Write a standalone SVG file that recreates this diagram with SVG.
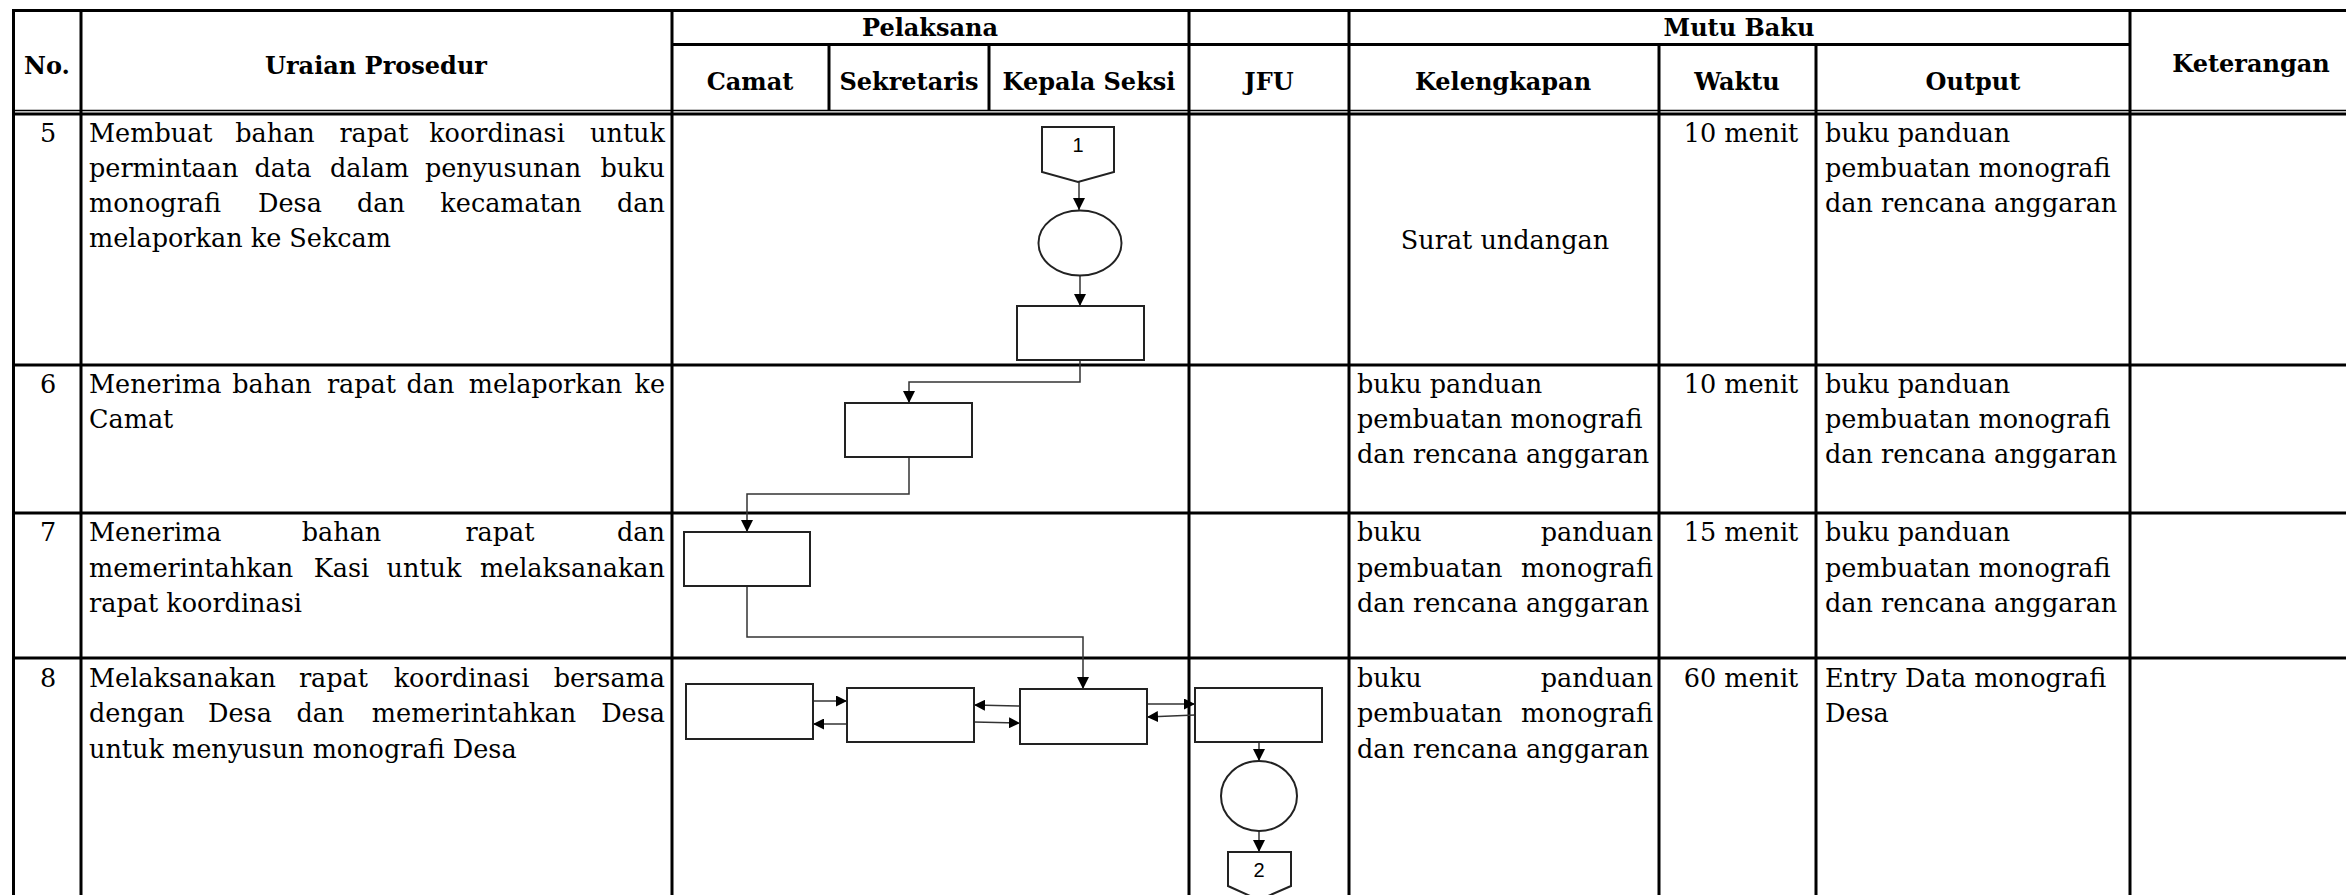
<svg xmlns="http://www.w3.org/2000/svg" width="2346" height="895" viewBox="0 0 2346 895">
<style>
.bg{fill:#fff}
.tl{stroke:#000;stroke-width:3;fill:none}
.tt{stroke:#000;stroke-width:1.6;fill:none}
.t{font-family:"DejaVu Serif",serif;font-size:25.5px;fill:#000}
.m{text-anchor:middle}
.e{text-anchor:end}
.h{font-family:"DejaVu Serif",serif;font-weight:bold;font-size:24px;fill:#000;text-anchor:middle}
.s{font-family:"Liberation Sans",Arial,sans-serif;font-size:20px;fill:#000;text-anchor:middle}
.shape{fill:#fff;stroke:#222;stroke-width:2}
.con{fill:none;stroke:#333;stroke-width:1.5}
</style>
<defs>
<marker id="ah" viewBox="0 0 12 12" refX="12" refY="6" markerWidth="12" markerHeight="12" markerUnits="userSpaceOnUse" orient="auto">
<path d="M0,0 L12,6 L0,12 z" fill="#000"/>
</marker>
<marker id="ahs" viewBox="0 0 12 12" refX="12" refY="6" markerWidth="11" markerHeight="11" markerUnits="userSpaceOnUse" orient="auto">
<path d="M0,0 L12,6 L0,12 z" fill="#000"/>
</marker>
</defs>
<rect class="bg" x="0" y="0" width="2346" height="895"/>

<g id="table">
<line class="tl" x1="12" y1="10.5" x2="2346" y2="10.5"/>
<line class="tl" x1="672" y1="44.5" x2="2130" y2="44.5"/>
<line class="tt" x1="12" y1="110.5" x2="2346" y2="110.5"/>
<line class="tl" x1="12" y1="114" x2="2346" y2="114"/>
<line class="tl" x1="12" y1="365" x2="2346" y2="365"/>
<line class="tl" x1="12" y1="513" x2="2346" y2="513"/>
<line class="tl" x1="12" y1="658" x2="2346" y2="658"/>
<line class="tl" x1="13.5" y1="9" x2="13.5" y2="895"/>
<line class="tl" x1="81" y1="9" x2="81" y2="895"/>
<line class="tl" x1="672" y1="9" x2="672" y2="895"/>
<line class="tl" x1="829" y1="44" x2="829" y2="111"/>
<line class="tl" x1="989" y1="44" x2="989" y2="111"/>
<line class="tl" x1="1189" y1="9" x2="1189" y2="895"/>
<line class="tl" x1="1349" y1="9" x2="1349" y2="895"/>
<line class="tl" x1="1659" y1="44" x2="1659" y2="895"/>
<line class="tl" x1="1816" y1="44" x2="1816" y2="895"/>
<line class="tl" x1="2130" y1="9" x2="2130" y2="895"/>
</g>

<g id="header">
<text class="h" x="47" y="74">No.</text>
<text class="h" x="376" y="74">Uraian Prosedur</text>
<text class="h" x="930" y="36">Pelaksana</text>
<text class="h" x="1739" y="36">Mutu Baku</text>
<text class="h" x="2251" y="72">Keterangan</text>
<text class="h" x="750" y="90">Camat</text>
<text class="h" x="909" y="90">Sekretaris</text>
<text class="h" x="1089" y="90">Kepala Seksi</text>
<text class="h" x="1269" y="90">JFU</text>
<text class="h" x="1503" y="90">Kelengkapan</text>
<text class="h" x="1737" y="90">Waktu</text>
<text class="h" x="1973" y="90">Output</text>
</g>

<g id="row5">
<text class="t m" x="48" y="142">5</text>
<text class="t" x="89" y="142">Membuat</text>
<text class="t m" x="275" y="142">bahan</text>
<text class="t m" x="374" y="142">rapat</text>
<text class="t m" x="497" y="142">koordinasi</text>
<text class="t e" x="665" y="142">untuk</text>
<text class="t" x="89" y="177">permintaan</text>
<text class="t m" x="283" y="177">data</text>
<text class="t m" x="369.5" y="177">dalam</text>
<text class="t m" x="503" y="177">penyusunan</text>
<text class="t e" x="665" y="177">buku</text>
<text class="t" x="89" y="212">monografi</text>
<text class="t m" x="290" y="212">Desa</text>
<text class="t m" x="381" y="212">dan</text>
<text class="t m" x="511" y="212">kecamatan</text>
<text class="t e" x="665" y="212">dan</text>
<text class="t" x="89" y="247">melaporkan ke Sekcam</text>
<text class="t m" x="1505" y="249">Surat undangan</text>
<text class="t m" x="1741" y="142">10 menit</text>
<text class="t" x="1825" y="142">buku panduan</text>
<text class="t" x="1825" y="177">pembuatan monografi</text>
<text class="t" x="1825" y="212">dan rencana anggaran</text>
</g>

<g id="row6">
<text class="t m" x="48" y="393">6</text>
<text class="t" x="89" y="393">Menerima</text>
<text class="t m" x="272" y="393">bahan</text>
<text class="t m" x="361.5" y="393">rapat</text>
<text class="t m" x="430.5" y="393">dan</text>
<text class="t m" x="545.5" y="393">melaporkan</text>
<text class="t e" x="665" y="393">ke</text>
<text class="t" x="89" y="428">Camat</text>
<text class="t" x="1357" y="393">buku panduan</text>
<text class="t" x="1357" y="428">pembuatan monografi</text>
<text class="t" x="1357" y="463">dan rencana anggaran</text>
<text class="t m" x="1741" y="393">10 menit</text>
<text class="t" x="1825" y="393">buku panduan</text>
<text class="t" x="1825" y="428">pembuatan monografi</text>
<text class="t" x="1825" y="463">dan rencana anggaran</text>
</g>

<g id="row7">
<text class="t m" x="48" y="541">7</text>
<text class="t" x="89" y="541">Menerima</text>
<text class="t m" x="341.5" y="541">bahan</text>
<text class="t m" x="500" y="541">rapat</text>
<text class="t e" x="665" y="541">dan</text>
<text class="t" x="89" y="577">memerintahkan</text>
<text class="t m" x="341.5" y="577">Kasi</text>
<text class="t m" x="424" y="577">untuk</text>
<text class="t e" x="665" y="577">melaksanakan</text>
<text class="t" x="89" y="612">rapat koordinasi</text>
<text class="t" x="1357" y="541">buku</text>
<text class="t e" x="1653" y="541">panduan</text>
<text class="t" x="1357" y="577">pembuatan</text>
<text class="t e" x="1653" y="577">monografi</text>
<text class="t" x="1357" y="612">dan rencana anggaran</text>
<text class="t m" x="1741" y="541">15 menit</text>
<text class="t" x="1825" y="541">buku panduan</text>
<text class="t" x="1825" y="577">pembuatan monografi</text>
<text class="t" x="1825" y="612">dan rencana anggaran</text>
</g>

<g id="row8">
<text class="t m" x="48" y="687">8</text>
<text class="t" x="89" y="687">Melaksanakan</text>
<text class="t m" x="333.5" y="687">rapat</text>
<text class="t m" x="461.5" y="687">koordinasi</text>
<text class="t e" x="665" y="687">bersama</text>
<text class="t" x="89" y="722">dengan</text>
<text class="t m" x="240" y="722">Desa</text>
<text class="t m" x="320.5" y="722">dan</text>
<text class="t m" x="474" y="722">memerintahkan</text>
<text class="t e" x="665" y="722">Desa</text>
<text class="t" x="89" y="758">untuk menyusun monografi Desa</text>
<text class="t" x="1357" y="687">buku</text>
<text class="t e" x="1653" y="687">panduan</text>
<text class="t" x="1357" y="722">pembuatan</text>
<text class="t e" x="1653" y="722">monografi</text>
<text class="t" x="1357" y="758">dan rencana anggaran</text>
<text class="t m" x="1741" y="687">60 menit</text>
<text class="t" x="1825" y="687">Entry Data monografi</text>
<text class="t" x="1825" y="722">Desa</text>
</g>

<g id="connectors">
<line class="con" x1="1079" y1="182" x2="1079" y2="210" marker-end="url(#ah)"/>
<line class="con" x1="1080" y1="275" x2="1080" y2="306" marker-end="url(#ah)"/>
<path class="con" d="M1080,360 V382 H909 V403" marker-end="url(#ah)"/>
<path class="con" d="M909,457 V494 H747 V532" marker-end="url(#ah)"/>
<path class="con" d="M747,586 V637 H1083 V689" marker-end="url(#ah)"/>
<line class="con" x1="814" y1="701" x2="847" y2="701" marker-end="url(#ahs)"/>
<line class="con" x1="847" y1="724" x2="813" y2="724" marker-end="url(#ahs)"/>
<line class="con" x1="1019" y1="706" x2="974" y2="705" marker-end="url(#ahs)"/>
<line class="con" x1="974" y1="722" x2="1020" y2="723" marker-end="url(#ahs)"/>
<line class="con" x1="1147" y1="704" x2="1195" y2="704" marker-end="url(#ahs)"/>
<line class="con" x1="1195" y1="715" x2="1147" y2="717" marker-end="url(#ahs)"/>
<line class="con" x1="1259" y1="742" x2="1259" y2="761" marker-end="url(#ah)"/>
<line class="con" x1="1259" y1="831" x2="1259" y2="852" marker-end="url(#ah)"/>
</g>

<g id="offpage1">
<path class="shape" d="M1042,127 H1114 V172 L1078,182 L1042,172 Z"/>
<text class="s" x="1078" y="152">1</text>
</g>
<g id="circle1"><ellipse class="shape" cx="1080" cy="243" rx="41.5" ry="32.5"/></g>
<g id="kasi5"><rect class="shape" x="1017" y="306" width="127" height="54"/></g>
<g id="sekretaris6"><rect class="shape" x="845" y="403" width="127" height="54"/></g>
<g id="camat7"><rect class="shape" x="684" y="532" width="126" height="54"/></g>
<g id="camat8"><rect class="shape" x="686" y="684" width="127" height="55"/></g>
<g id="sekretaris8"><rect class="shape" x="847" y="688" width="127" height="54"/></g>
<g id="kasi8"><rect class="shape" x="1020" y="689" width="127" height="55"/></g>
<g id="jfu8"><rect class="shape" x="1195" y="688" width="127" height="54"/></g>
<g id="circle2"><ellipse class="shape" cx="1259" cy="796" rx="38" ry="35"/></g>
<g id="offpage2">
<path class="shape" d="M1228,852 H1291 V886 L1259,900 L1228,886 Z"/>
<text class="s" x="1259" y="877">2</text>
</g>
</svg>
